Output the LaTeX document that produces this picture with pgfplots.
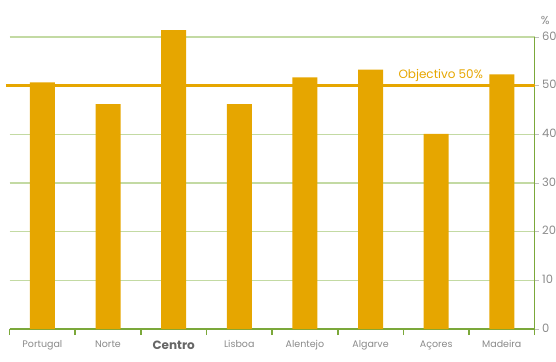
\documentclass[border=0pt]{standalone}
\usepackage{pgfplots}
\pgfplotsset{compat=1.18}
\usepackage{fontspec}
\setmainfont{Poppins}
\definecolor{barc}{HTML}{E6A600}
\definecolor{axgreen}{HTML}{7BA83A}
\definecolor{gridc}{HTML}{C3DAA3}
\definecolor{txtgray}{HTML}{8A8A8A}
\definecolor{darkgray}{HTML}{666666}
\begin{document}
\begin{tikzpicture}
\begin{axis}[
  scale only axis, width=525pt, height=292pt,
  xmin=-0.5, xmax=7.5, ymin=0, ymax=60,
  clip=false,
  axis x line*=bottom, axis y line*=right,
  axis line style={draw=axgreen, line width=1.6pt},
  ybar, bar width=25pt,
  xtick={0,...,7},
  xticklabels={Portugal,Norte,{\fontsize{12}{13}\selectfont\bfseries\color{darkgray}Centro},Lisboa,Alentejo,Algarve,Açores,Madeira},
  x tick label style={font=\fontsize{9.5}{10}\selectfont, text=txtgray, yshift=-4pt},
  major x tick style={draw=none},
  minor xtick={-0.5,0.5,...,7.5},
  minor x tick style={draw=axgreen, line width=1.6pt},
  minor tick length=6pt,
  tick align=outside,
  ytick={0,10,...,60},
  y tick style={draw=gray!50, line width=0.8pt},
  major tick length=4pt,
  /pgf/number format/assume math mode=true,
  y tick label style={font=\fontsize{11.5}{12}\selectfont, text=txtgray, yshift=1pt},
  ymajorgrids, grid style={draw=gridc, line width=1.5pt},
]
\coordinate (O) at (rel axis cs:0,0);
\addplot[fill=barc, draw=none] coordinates {
  (0,50.7) (1,46.2) (2,61.4) (3,46.2) (4,51.7) (5,53.3) (6,40.1) (7,52.3)
};
\draw[barc, line width=3pt] (axis cs:-0.555,50) -- (axis cs:7.5,50);
\node[anchor=south east, text=barc, font=\fontsize{12}{13}\selectfont, inner sep=1pt] at (axis cs:6.73,50.6) {Objectivo 50\%};
\node[anchor=south west, text=txtgray, font=\fontsize{11.5}{12}\selectfont, inner sep=0pt] at ([xshift=6pt,yshift=12pt]rel axis cs:1,1) {\%};
\end{axis}
\pgfresetboundingbox
\path[use as bounding box] (O) ++(-9.6pt,-32pt) rectangle ++(556pt,361pt);
\end{tikzpicture}
\end{document}
